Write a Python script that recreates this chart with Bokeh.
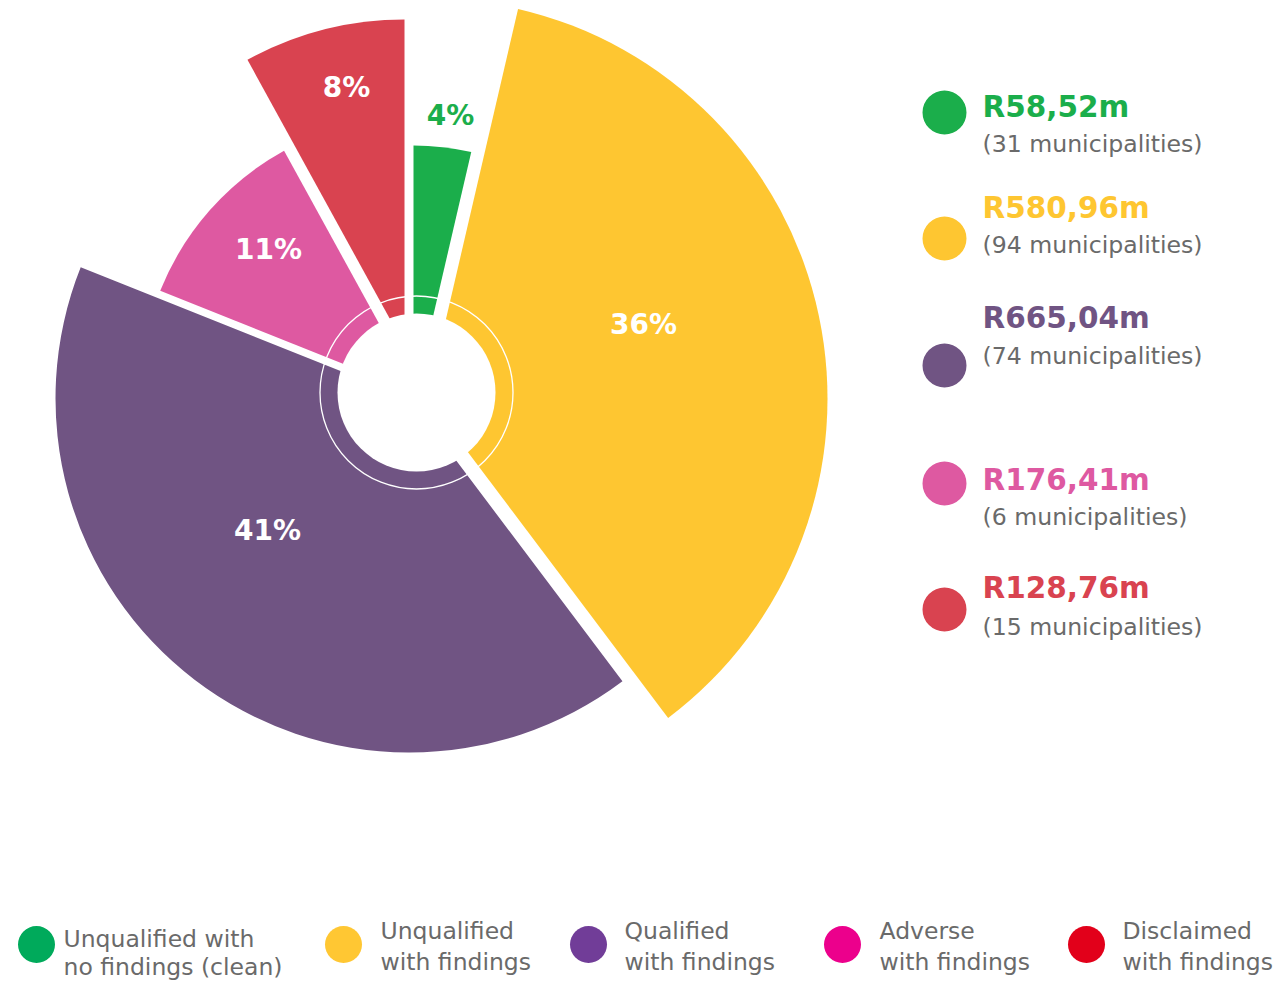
import math
from bokeh.plotting import figure
from bokeh.models import Range1d
from bokeh.embed import file_html
from bokeh.resources import INLINE
from bokeh.core.properties import value

# ---------------- data ----------------
categories = ["Unqualified with no findings (clean)", "Unqualified with findings",
              "Qualified with findings", "Adverse with findings", "Disclaimed with findings"]
legend_line1 = ["Unqualified with", "Unqualified", "Qualified", "Adverse", "Disclaimed"]
legend_line2 = ["no findings (clean)", "with findings", "with findings", "with findings", "with findings"]
amounts = [58.52, 580.96, 665.04, 176.41, 128.76]          # R million
municipalities = [31, 94, 74, 6, 15]
pct_labels = ["4%", "36%", "41%", "11%", "8%"]
value_labels = ["R" + f"{a:.2f}".replace(".", ",") + "m" for a in amounts]
muni_labels = [f"({m} municipalities)" for m in municipalities]

# ---------------- style ----------------
slice_colors = ["#1BAE4B", "#FEC631", "#705483", "#DE59A1", "#D94350"]
legend_colors = ["#00AA5B", "#FFC733", "#713D98", "#EC008C", "#E2001A"]
pct_colors = ["#1BAE4B", "white", "white", "white", "white"]
gray = "#6a6a6a"
FONT = value("DejaVu Sans")

W, H = 1276, 984
cx, cy = 416, 392                      # pie centre (page px)
# per-slice apex offsets (page px) and outer radii
offsets = [(-3, 8), (11, 6), (-7, 6), (1, 1), (-12, -47)]
radii = [255, 400, 354, 277, 326]
hole_r, ring_r = 79, 96.5
pct_pos = [(450, 115), (643, 324), (267, 530), (268, 249), (346, 87)]

p = figure(width=W, height=H, x_range=Range1d(0, W), y_range=Range1d(-H, 0),
           min_border=0, toolbar_location=None, output_backend="svg",
           background_fill_color="white", border_fill_color="white")
p.axis.visible = False
p.grid.visible = False
p.outline_line_color = None

total = sum(amounts)
cum = 0.0
for i, a in enumerate(amounts):
    t0 = 360.0 * cum / total
    cum += a
    t1 = 360.0 * cum / total
    ox, oy = offsets[i]
    p.wedge(x=cx + ox, y=-(cy + oy), radius=radii[i],
            start_angle=math.radians(90 - t1), end_angle=math.radians(90 - t0),
            direction="anticlock", fill_color=slice_colors[i], line_color=None)

# centre hole and thin ring
p.circle(x=cx, y=-cy, radius=hole_r, fill_color="white", line_color=None)
p.circle(x=cx, y=-cy, radius=ring_r, fill_color=None, line_color="white", line_width=1.3)

# percentage labels
for i, lab in enumerate(pct_labels):
    x, y = pct_pos[i]
    p.text(x=[x], y=[-y], text=[lab], text_font=FONT, text_font_style="bold",
           text_font_size="28px", text_color=pct_colors[i],
           text_align="center", text_baseline="alphabetic")

# right-hand legend
dot_y = [112, 238, 365, 483, 609]
val_base = [106, 207, 317, 479, 587]
muni_base = [143, 244, 355, 516, 626]
for i in range(len(amounts)):
    p.circle(x=944, y=-dot_y[i], radius=22, fill_color=slice_colors[i], line_color=None)
    p.text(x=[982], y=[-val_base[i]], text=[value_labels[i]], text_font=FONT,
           text_font_style="bold", text_font_size="29.5px", text_color=slice_colors[i],
           text_align="left", text_baseline="alphabetic")
    p.text(x=[982], y=[-muni_base[i]], text=[muni_labels[i]], text_font=FONT,
           text_font_size="23.6px", text_color=gray,
           text_align="left", text_baseline="alphabetic")

# bottom legend
leg_dot_x = [36, 343, 588, 842, 1086]
leg_text_x = [63, 380, 624, 879, 1122]
line1_base = [938, 930, 930, 930, 930]
line2_base = [966, 961, 961, 961, 961]
for i in range(len(categories)):
    p.circle(x=leg_dot_x[i], y=-944, radius=18.5, fill_color=legend_colors[i], line_color=None)
    p.text(x=[leg_text_x[i]], y=[-line1_base[i]], text=[legend_line1[i]], text_font=FONT,
           text_font_size="23.5px", text_color=gray, text_align="left", text_baseline="alphabetic")
    p.text(x=[leg_text_x[i]], y=[-line2_base[i]], text=[legend_line2[i]], text_font=FONT,
           text_font_size="23.5px", text_color=gray, text_align="left", text_baseline="alphabetic")

open("out.html", "w").write(file_html(p, INLINE))
